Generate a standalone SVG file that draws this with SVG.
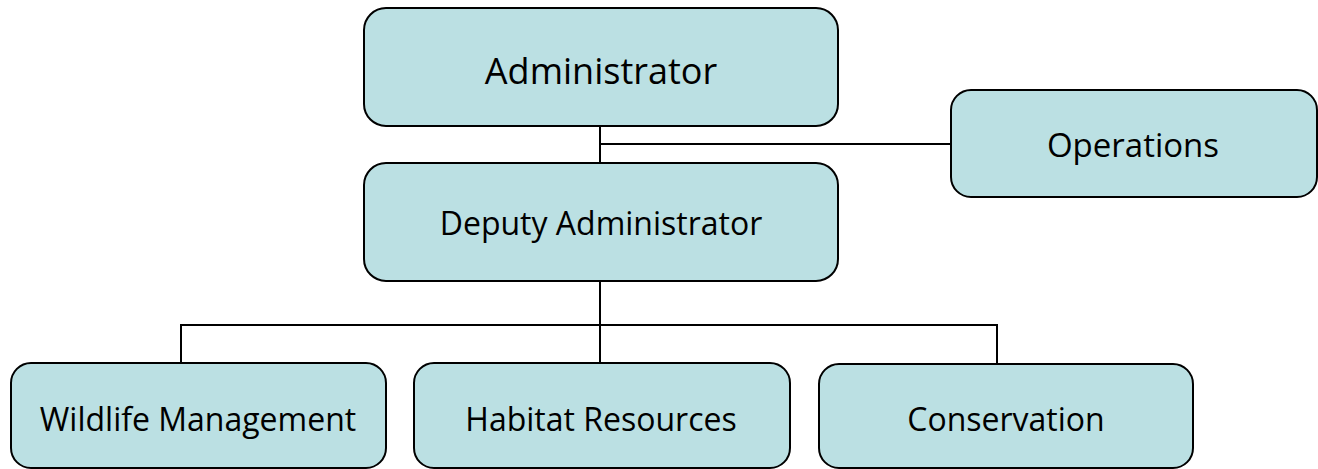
<svg xmlns="http://www.w3.org/2000/svg" width="1318" height="469" viewBox="0 0 1318 469">
<style>
.box{fill:#BBE0E3;stroke:#000;stroke-width:2}
.t{font-family:"Open Sans","Noto Sans","Liberation Sans",sans-serif;fill:#000;text-anchor:middle;dominant-baseline:central;font-size:32px}
.conn{fill:none;stroke:#000;stroke-width:2}
</style>
<rect width="1318" height="469" fill="#fff"/>
<g id="connectors">
<path class="conn" d="M600,126 V163"/>
<path class="conn" d="M600,144 H951"/>
<path class="conn" d="M600,281 V325"/>
<path class="conn" d="M181,363 V325 H997 V364"/>
<path class="conn" d="M600,325 V363"/>
</g>
<g id="administrator">
<rect class="box" x="364" y="8" width="474" height="118" rx="22"/>
<text class="t" x="601" y="70" style="font-size:36px">Administrator</text>
</g>
<g id="operations">
<rect class="box" x="951" y="90" width="366" height="107" rx="20"/>
<text class="t" x="1133" y="144" style="font-size:33px">Operations</text>
</g>
<g id="deputy">
<rect class="box" x="364" y="163" width="474" height="118" rx="22"/>
<text class="t" x="601" y="222">Deputy Administrator</text>
</g>
<g id="wildlife">
<rect class="box" x="11" y="363" width="375" height="105" rx="20"/>
<text class="t" x="198" y="418">Wildlife Management</text>
</g>
<g id="habitat">
<rect class="box" x="414" y="363" width="376" height="105" rx="20"/>
<text class="t" x="601" y="418">Habitat Resources</text>
</g>
<g id="conservation">
<rect class="box" x="819" y="364" width="374" height="104" rx="20"/>
<text class="t" x="1006" y="418">Conservation</text>
</g>
</svg>
